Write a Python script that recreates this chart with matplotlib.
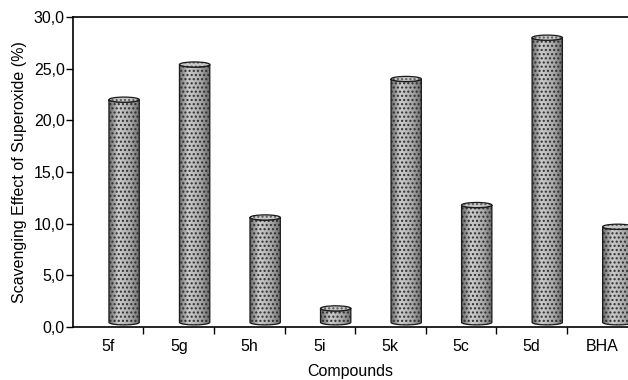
import numpy as np
import matplotlib
matplotlib.use("Agg")
import matplotlib.pyplot as plt
from matplotlib.path import Path
from matplotlib.patches import PathPatch, Ellipse
from matplotlib.ticker import FuncFormatter, FixedLocator

plt.rcParams["font.family"] = ["Liberation Sans", "DejaVu Sans"]
plt.rcParams["hatch.linewidth"] = 1.0

compounds = ["5f", "5g", "5h", "5i", "5k", "5c", "5d", "BHA"]
scavenging = [22.0, 25.4, 10.6, 1.8, 24.0, 11.8, 28.0, 9.7]

fig = plt.figure(figsize=(6.28, 3.8), dpi=100)
ax = fig.add_axes([0.1162, 0.1395, 0.8838, 0.8158])

# horizontal shading of the cylinders: dark rims, light band left of centre
grad = np.interp(np.linspace(0, 1, 64), [0, 0.3, 0.7, 1], [0.42, 0.80, 0.66, 0.42])
grad_img = np.tile(grad, (2, 1))


def cylinder(ax, xc, val, base=0.45, w=0.43, eh=0.5):
    x0 = xc + 0.01
    x1 = x0 + w
    cx = (x0 + x1) / 2
    a, b = w / 2, eh / 2
    t = np.linspace(np.pi, 2 * np.pi, 40)
    bot = np.column_stack([cx + a * np.cos(t), base + b * np.sin(t)])
    top = np.column_stack([cx + a * np.cos(t[::-1]), val + b * np.sin(t[::-1])])
    verts = np.vstack([[x0, val], bot, [x1, val], top, [x0, val]])
    path = Path(verts, closed=True)

    body = PathPatch(path, facecolor="none", edgecolor="none")
    ax.add_patch(body)
    im = ax.imshow(grad_img, cmap="gray", vmin=0, vmax=1, aspect="auto",
                   extent=[x0, x1, base - b, val + b], zorder=2)
    im.set_clip_path(body)
    ax.add_patch(PathPatch(path, facecolor="none", edgecolor="#2e2e2e",
                           hatch="....", lw=0, zorder=3))
    ax.add_patch(PathPatch(path, facecolor="none", edgecolor="#1a1a1a",
                           lw=0.9, zorder=4))

    ax.add_patch(Ellipse((cx, val), w, eh, facecolor="#c8c8c8",
                         edgecolor="none", zorder=4))
    ax.add_patch(Ellipse((cx, val), w, eh, facecolor="none", edgecolor="#5a5a5a",
                         hatch="....", lw=0, zorder=5))
    ax.add_patch(Ellipse((cx, val), w, eh, facecolor="none", edgecolor="#1a1a1a",
                         lw=0.9, zorder=6))


centers = np.arange(len(compounds)) + 0.5
for xc, v in zip(centers, scavenging):
    cylinder(ax, xc, v)

ax.set_xlim(0, 7.87)
ax.set_ylim(0, 30)

ax.set_yticks(np.arange(0, 31, 5))
ax.yaxis.set_major_formatter(FuncFormatter(lambda v, p: f"{v:.1f}".replace(".", ",")))
ax.set_xticks(centers)
ax.set_xticklabels(compounds)
ax.xaxis.set_minor_locator(FixedLocator(np.arange(1, len(compounds))))
ax.tick_params(axis="x", which="major", length=0, pad=9, labelsize=11.5)
ax.tick_params(axis="x", which="minor", length=5, width=1.0, direction="out")
ax.tick_params(axis="y", length=5, width=1.0, direction="out", labelsize=11.5, pad=1)

for s in ["left", "bottom", "top"]:
    ax.spines[s].set_linewidth(1.2)
ax.spines["right"].set_visible(False)

ax.set_xlabel("Compounds", fontsize=11.5, labelpad=7)
ax.set_ylabel("Scavenging Effect of Superoxide (%)", fontsize=11.5, labelpad=5)

fig.savefig("out.png", dpi=100)
